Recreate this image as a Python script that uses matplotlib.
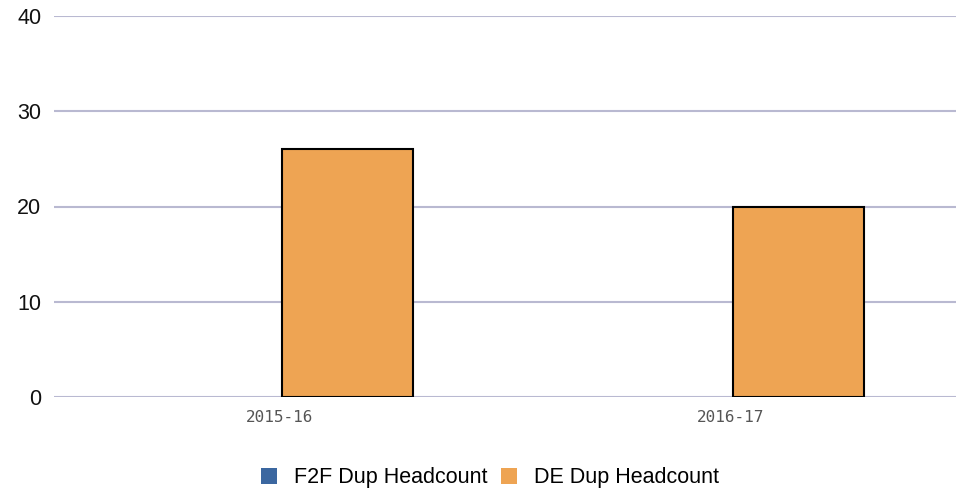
import matplotlib
matplotlib.use("Agg")
import matplotlib.pyplot as plt
import numpy as np

# data
categories = ["2015-16", "2016-17"]
f2f_dup = [0, 0]
de_dup = [26, 20]
series_names = ["F2F Dup Headcount", "DE Dup Headcount"]

plt.rcParams['font.family'] = ['Liberation Sans', 'DejaVu Sans']

fig = plt.figure(figsize=(9.66, 4.92), dpi=100)
ax = fig.add_axes([54 / 966, 1 - 397 / 492, 902 / 966, 381 / 492])

x = np.arange(len(categories))
w = 0.29
# zero-height bars get no outline so they stay invisible
f2f_lw = [1.5 if v else 0 for v in f2f_dup]
ax.bar(x + 0.005, f2f_dup, width=-w, align='edge', color='#3b67a0',
       edgecolor='black', linewidth=f2f_lw, label=series_names[0], zorder=3)
ax.bar(x + 0.005, de_dup, width=w, align='edge', color='#eea453',
       edgecolor='black', linewidth=1.5, label=series_names[1], zorder=3)

ax.set_xlim(-0.5, len(categories) - 0.5)
ax.set_ylim(0, 40)
ax.set_yticks([0, 10, 20, 30, 40])
ax.set_xticks(x)
ax.set_xticklabels(categories, family='DejaVu Sans Mono', fontsize=11.5, color='#555555')
ax.tick_params(axis='y', labelsize=15.5, length=0, pad=9, labelcolor='#111111')
ax.tick_params(axis='x', length=0, pad=9)

ax.grid(axis='y', color='#b9b9d1', linewidth=1.5, zorder=0)
for s in ax.spines.values():
    s.set_visible(False)

handles, labels = ax.get_legend_handles_labels()
fig.legend(handles, labels, loc='center', bbox_to_anchor=(490 / 966, 1 - 478 / 492),
           ncol=2, frameon=False, fontsize=15.5, handlelength=0.75, handleheight=0.75,
           handletextpad=0.8, columnspacing=0.6)
for h in fig.legends[0].legend_handles:
    h.set_edgecolor('none')
    h.set_linewidth(0)

fig.savefig("out.png", dpi=100)
